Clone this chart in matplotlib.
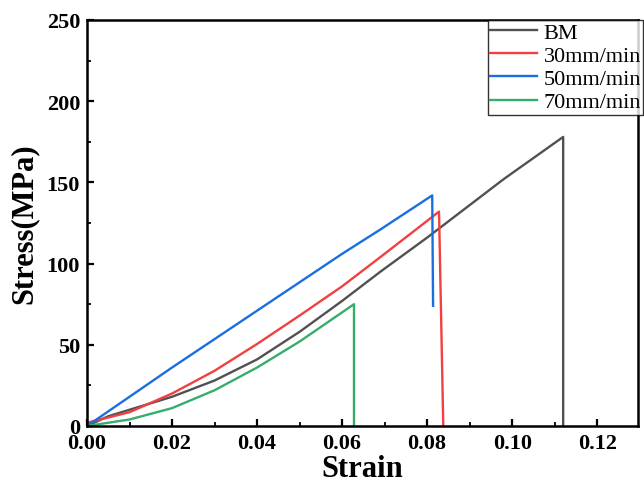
import matplotlib.pyplot as plt
from matplotlib.ticker import MultipleLocator

plt.rcParams['font.family'] = ['Liberation Serif', 'DejaVu Serif']

# stress-strain readings from the picture
bm_x = [0.0, 0.005, 0.01, 0.02, 0.03, 0.04, 0.05, 0.06, 0.069, 0.08, 0.098, 0.112, 0.112]
bm_y = [0, 6, 10, 18, 28, 41, 58, 77, 95, 116, 152, 178, 0]

r30_x = [0.0, 0.01, 0.02, 0.03, 0.04, 0.05, 0.06, 0.069, 0.0828, 0.0838]
r30_y = [2, 8.5, 20, 34, 50.5, 68, 86, 104, 132, 0]

r50_x = [0.0, 0.02, 0.04, 0.06, 0.069, 0.0812, 0.0814]
r50_y = [0, 36, 71, 106, 121, 142, 74]

r70_x = [0.0, 0.01, 0.02, 0.03, 0.04, 0.05, 0.0628, 0.0628]
r70_y = [0, 4, 11, 22, 36, 52, 75, 0]

labels = ['BM', '30mm/min', '50mm/min', '70mm/min']
colors = ['#515151', '#F14040', '#1A6FDF', '#37AD6B']

fig = plt.figure(figsize=(6.44, 4.89), dpi=100)
ax = fig.add_axes([87 / 644, 62 / 489, 551 / 644, 406 / 489])

for xs, ys, lab, c in zip([bm_x, r30_x, r50_x, r70_x], [bm_y, r30_y, r50_y, r70_y], labels, colors):
    ax.plot(xs, ys, color=c, lw=1.7, label=lab)

ax.set_xlim(0, 0.1296)
ax.set_ylim(0, 250)
ax.xaxis.set_major_locator(MultipleLocator(0.02))
ax.xaxis.set_minor_locator(MultipleLocator(0.01))
ax.yaxis.set_major_locator(MultipleLocator(50))
ax.yaxis.set_minor_locator(MultipleLocator(25))
ax.xaxis.set_major_formatter(plt.FuncFormatter(lambda v, p: '%.2f' % v))
ax.tick_params(which='major', direction='in', length=5, width=1.6, labelsize=16, pad=5)
ax.tick_params(which='minor', direction='in', length=3, width=1.3)
for lab in ax.get_xticklabels() + ax.get_yticklabels():
    lab.set_fontweight('bold')
for s in ax.spines.values():
    s.set_linewidth(1.8)

ax.set_xlabel('Strain', fontsize=22, fontweight='bold', labelpad=1)
ax.set_ylabel('Stress(MPa)', fontsize=22, fontweight='bold', labelpad=6)

leg = ax.legend(loc='upper left', bbox_to_anchor=(401 / 551, 1.0), fontsize=16,
                frameon=True, fancybox=False, edgecolor='black', handlelength=2.1,
                handletextpad=0.3, borderpad=0.1, labelspacing=0.12, borderaxespad=0)
leg.get_frame().set_linewidth(1.0)

plt.savefig('out.png', dpi=100)
